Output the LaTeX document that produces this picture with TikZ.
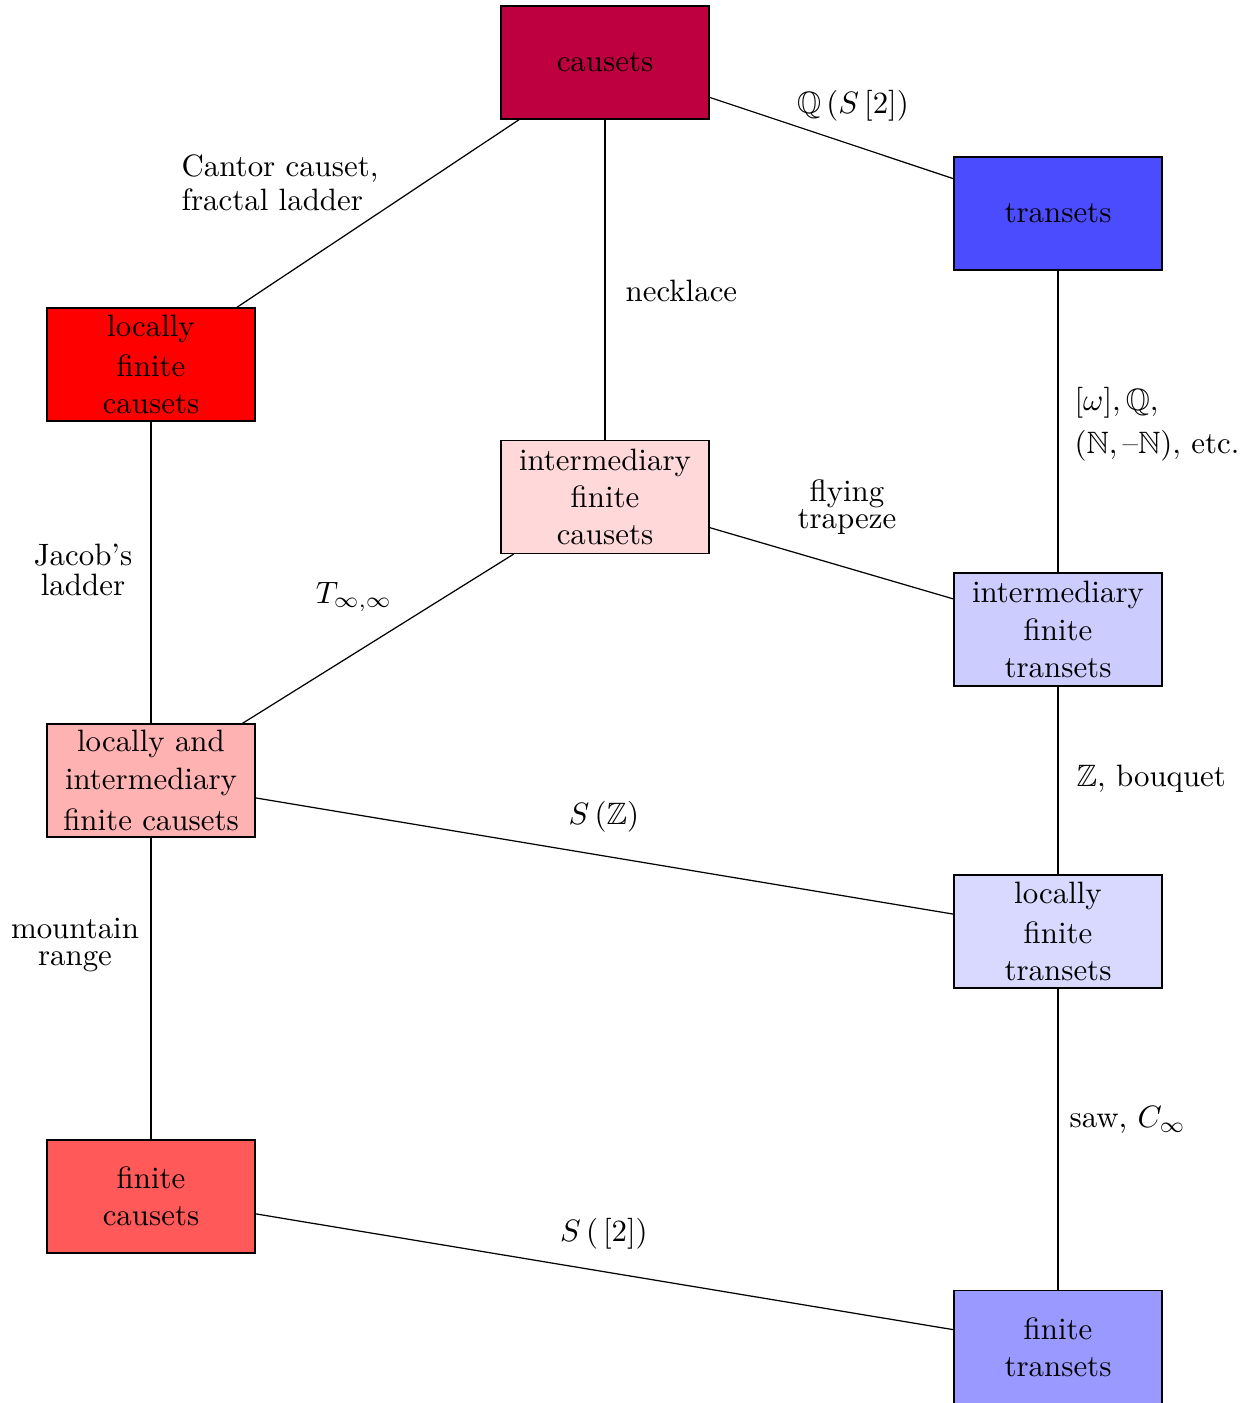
\documentclass[tikz,border=0pt]{standalone}
\usepackage{amssymb}
\begin{document}
\begin{tikzpicture}[x=0.3236pt,y=-0.3236pt,
  setbox/.style={draw, minimum width=67.3pt, minimum height=36.6pt, inner sep=0pt, align=center},
  lbl/.style={inner sep=0pt, align=center},
  lbll/.style={inner sep=0pt, align=left, anchor=west}]
\useasboundingbox (0,0) rectangle (1248,1403);

% sets of causets (left) and transets (right)
\node[setbox, fill=purple]   (cs)  at (605,62.5)   {causets};
\node[setbox, fill=blue!70]  (ts)  at (1058,213.5) {transets};
\node[setbox, fill=red]      (lfc) at (151,364.5)  {locally\\[0.7pt] finite\\ causets};
\node[setbox, fill=red!15]   (ifc) at (605,497)    {intermediary\\ finite\\ causets};
\node[setbox, fill=blue!20]  (ift) at (1058,629.5) {intermediary\\ finite\\ transets};
\node[setbox, fill=red!30]   (lic) at (151,780.5)  {locally and\\ intermediary\\[1.3pt] finite causets};
\node[setbox, fill=blue!15]  (lft) at (1058,931.5) {locally\\[1pt] finite\\ transets};
\node[setbox, fill=red!65]   (fc)  at (151,1196.5) {finite\\ causets};
\node[setbox, fill=blue!40]  (ft)  at (1058,1347)  {finite\\ transets};

% inclusions
\draw (cs) -- (ts);
\draw (cs) -- (lfc);
\draw (cs) -- (ifc);
\draw (ts) -- (ift);
\draw (lfc) -- (lic);
\draw (ifc) -- (ift);
\draw (ifc) -- (lic);
\draw (ift) -- (lft);
\draw (lic) -- (lft);
\draw (lic) -- (fc);
\draw (lft) -- (ft);
\draw (fc) -- (ft);

% separating examples
\node[lbl]  (eQ)     at (853,106)  {$\mathbb{Q}\,(S\,[2])$};
\node[lbll] (eCant)  at (181,183)  {Cantor causet,\\[-1pt] fractal ladder};
\node[lbll] (eNeck)  at (625,291)  {necklace};
\node[lbll] (eOmega) at (1074,424) {$[\omega],\mathbb{Q},$\\[2pt] $(\mathbb{N},\mbox{--}\mathbb{N}),$ etc.};
\node[lbl]  (eJac)   at (83,570)   {Jacob's\\[-2.3pt] ladder};
\node[lbl]  (eFly)   at (847,507)  {flying\\[-3pt] trapeze};
\node[lbl]  (eT)     at (354,597)  {$T_{\infty,\infty}$};
\node[lbll] (eZ)     at (1076,779) {$\mathbb{Z},$ bouquet};
\node[lbl]  (eSZ)    at (604,817)  {$S\,(\mathbb{Z})$};
\node[lbl]  (eMount) at (75,945)   {mountain\\[-3.5pt] range};
\node[lbll] (eSaw)   at (1069,1120) {saw, $C_\infty$};
\node[lbl]  (eS2)    at (604,1234) {$S\,(\,[2])$};
\end{tikzpicture}
\end{document}
